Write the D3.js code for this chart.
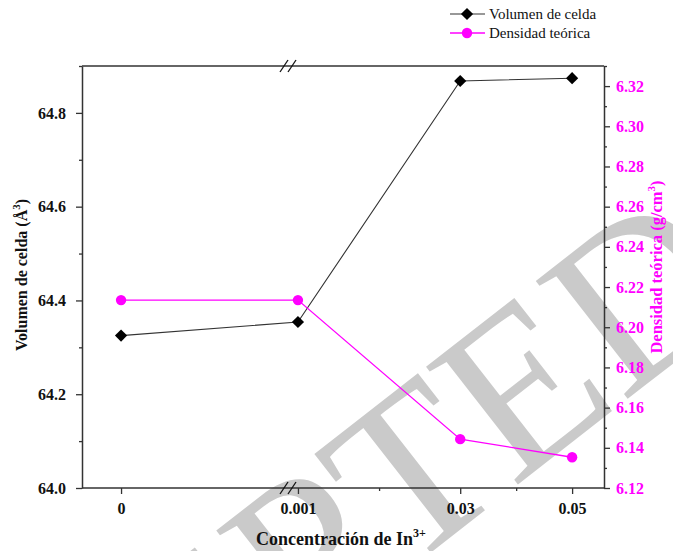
<!DOCTYPE html>
<html>
<head>
<meta charset="utf-8">
<script src="https://cdn.jsdelivr.net/npm/d3@7"></script>
<style>
  body { margin: 0; background: #fff; }
  text { font-family: "Liberation Serif", "Times New Roman", serif; }
</style>
</head>
<body>
<svg id="chart" width="673" height="551"></svg>
<script>
// Concentración de In3+ (x) and the two measured series
const concentrations = [0, 0.001, 0.03, 0.05];
const xTickLabels = ["0", "0.001", "0.03", "0.05"];
const xMinorTicks = [0.0155, 0.04];
const cellVolume = [64.325, 64.354, 64.868, 64.874];   // Å^3
const density = [6.2135, 6.2135, 6.1443, 6.1353];       // g/cm^3
const volumeTicks = [64.0, 64.2, 64.4, 64.6, 64.8];
const volumeMinor = [64.1, 64.3, 64.5, 64.7, 64.9];
const densityTicks = [6.12, 6.14, 6.16, 6.18, 6.20, 6.22, 6.24, 6.26, 6.28, 6.30, 6.32];
const densityMinor = [6.13, 6.15, 6.17, 6.19, 6.21, 6.23, 6.25, 6.27, 6.29, 6.31, 6.33];
const legendLabels = ["Volumen de celda", "Densidad teórica"];

const MAGENTA = "#ff00ff";
const AXIS = "#333";
const SERIF = '"Liberation Serif", "Times New Roman", serif';

const svg = d3.select("#chart");
const plotLeft = 82, plotRight = 604, plotTop = 66, plotBottom = 488;
const breakX = 288;

// broken x axis: a short segment around 0, then a linear segment from 0.001 on
const xLeft = d3.scaleLinear().domain([-0.001, 0.00425]).range([plotLeft, breakX - 1]);
const xRight = d3.scaleLinear().domain([-0.0006, 0.0557]).range([breakX + 1, plotRight]);
const xPos = v => (v < 0.0008 ? xLeft(v) : xRight(v));

const yVol = d3.scaleLinear().domain([64.0, 64.9]).range([plotBottom, plotTop]);
const yDen = d3.scaleLinear().domain([6.12, 6.33]).range([plotBottom, plotTop]);

// background stamp
svg.append("text")
  .attr("transform", "translate(288,664) rotate(-38)")
  .attr("text-anchor", "middle")
  .attr("font-size", 228)
  .attr("fill", "#cacaca")
  .text("ACCEPTED");

// frame: top line and bottom baseline
svg.append("line").attr("x1", plotLeft).attr("x2", plotRight).attr("y1", plotTop).attr("y2", plotTop)
  .attr("stroke", AXIS).attr("stroke-width", 1.3);
svg.append("line").attr("x1", plotLeft).attr("x2", plotRight).attr("y1", plotBottom).attr("y2", plotBottom)
  .attr("stroke", AXIS).attr("stroke-width", 1.5);

// break marks on top and bottom
[plotTop, plotBottom].forEach(y => {
  [-4, 4].forEach(dx => {
    svg.append("line")
      .attr("x1", breakX + dx - 4).attr("y1", y + 6)
      .attr("x2", breakX + dx + 4).attr("y2", y - 6)
      .attr("stroke", "#111").attr("stroke-width", 1.3);
  });
});

function styleAxis(g, color) {
  g.attr("font-family", SERIF);
  g.select(".domain").attr("stroke", AXIS).attr("stroke-width", 1.5);
  g.selectAll(".tick line").attr("stroke", AXIS).attr("stroke-width", 1.3);
  g.selectAll(".tick text")
    .attr("fill", color)
    .attr("font-size", 16)
    .attr("font-weight", "bold")
    .style("font-family", SERIF);
}

// left axis (Volumen de celda)
const gL = svg.append("g").attr("transform", `translate(${plotLeft},0)`)
  .call(d3.axisLeft(yVol).tickValues(volumeTicks).tickFormat(d3.format(".1f"))
    .tickSize(6).tickPadding(10).tickSizeOuter(0));
styleAxis(gL, "#111");
svg.append("g").attr("transform", `translate(${plotLeft},0)`)
  .call(d3.axisLeft(yVol).tickValues(volumeMinor).tickFormat("").tickSize(3).tickSizeOuter(0))
  .call(g => g.select(".domain").remove())
  .selectAll(".tick line").attr("stroke", AXIS).attr("stroke-width", 1.3);

// right axis (Densidad teórica)
const gR = svg.append("g").attr("transform", `translate(${plotRight},0)`)
  .call(d3.axisRight(yDen).tickValues(densityTicks).tickFormat(d3.format(".2f"))
    .tickSize(6).tickPadding(6).tickSizeOuter(0));
styleAxis(gR, MAGENTA);
svg.append("g").attr("transform", `translate(${plotRight},0)`)
  .call(d3.axisRight(yDen).tickValues(densityMinor).tickFormat("").tickSize(3).tickSizeOuter(0))
  .call(g => g.select(".domain").remove())
  .selectAll(".tick line").attr("stroke", AXIS).attr("stroke-width", 1.3);

// bottom axis, two segments
const gB1 = svg.append("g").attr("transform", `translate(0,${plotBottom})`)
  .call(d3.axisBottom(xLeft).tickValues([concentrations[0]])
    .tickFormat(() => xTickLabels[0]).tickSize(6).tickPadding(9).tickSizeOuter(0));
gB1.select(".domain").remove();
styleAxis(gB1, "#111");
const gB2 = svg.append("g").attr("transform", `translate(0,${plotBottom})`)
  .call(d3.axisBottom(xRight).tickValues(concentrations.slice(1))
    .tickFormat((d, i) => xTickLabels[i + 1]).tickSize(6).tickPadding(9).tickSizeOuter(0));
gB2.select(".domain").remove();
styleAxis(gB2, "#111");
svg.append("g").attr("transform", `translate(0,${plotBottom})`)
  .call(d3.axisBottom(xRight).tickValues(xMinorTicks).tickFormat("").tickSize(3).tickSizeOuter(0))
  .call(g => g.select(".domain").remove())
  .selectAll(".tick line").attr("stroke", AXIS).attr("stroke-width", 1.3);

// series lines
const volLine = d3.line().x((d, i) => xPos(concentrations[i])).y(d => yVol(d));
const denLine = d3.line().x((d, i) => xPos(concentrations[i])).y(d => yDen(d));

svg.append("path").datum(cellVolume).attr("d", volLine)
  .attr("fill", "none").attr("stroke", "#333").attr("stroke-width", 1.1);
svg.append("path").datum(density).attr("d", denLine)
  .attr("fill", "none").attr("stroke", MAGENTA).attr("stroke-width", 1.3);

const diamond = d3.symbol().type(d3.symbolDiamond2).size(95);

svg.append("g").selectAll("path").data(cellVolume).join("path")
  .attr("d", diamond)
  .attr("transform", (d, i) => `translate(${xPos(concentrations[i])},${yVol(d)})`)
  .attr("fill", "#000");
svg.append("g").selectAll("circle").data(density).join("circle")
  .attr("cx", (d, i) => xPos(concentrations[i]))
  .attr("cy", d => yDen(d))
  .attr("r", 5.2)
  .attr("fill", MAGENTA);

// axis titles
svg.append("text")
  .attr("x", 341).attr("y", 545)
  .attr("text-anchor", "middle")
  .attr("font-size", 18).attr("font-weight", "bold").attr("fill", "#111")
  .html('Concentración de In<tspan dy="-8" font-size="12">3+</tspan>');

svg.append("text")
  .attr("transform", "translate(27,275) rotate(-90)")
  .attr("text-anchor", "middle")
  .attr("font-size", 16).attr("font-weight", "bold").attr("fill", "#111")
  .html('Volumen de celda (Å<tspan dy="-7" font-size="11">3</tspan><tspan dy="7">)</tspan>');

svg.append("text")
  .attr("transform", "translate(662,267) rotate(-90)")
  .attr("text-anchor", "middle")
  .attr("font-size", 16.5).attr("font-weight", "bold").attr("fill", MAGENTA)
  .html('Densidad teórica (g/cm<tspan dy="-7" font-size="11">3</tspan><tspan dy="7">)</tspan>');

// legend
const legend = svg.append("g");
const legendY = [14, 33];
legend.append("line").attr("x1", 450).attr("x2", 485).attr("y1", legendY[0]).attr("y2", legendY[0])
  .attr("stroke", "#333").attr("stroke-width", 1.1);
legend.append("path").attr("d", diamond).attr("transform", `translate(467,${legendY[0]})`).attr("fill", "#000");
legend.append("line").attr("x1", 450).attr("x2", 485).attr("y1", legendY[1]).attr("y2", legendY[1])
  .attr("stroke", MAGENTA).attr("stroke-width", 1.3);
legend.append("circle").attr("cx", 467).attr("cy", legendY[1]).attr("r", 5.2).attr("fill", MAGENTA);
legend.selectAll("text.lbl").data(legendLabels).join("text")
  .attr("class", "lbl")
  .attr("x", 489).attr("y", (d, i) => legendY[i] + 5)
  .attr("font-size", 15).attr("fill", "#111")
  .text(d => d);
</script>
</body>
</html>
